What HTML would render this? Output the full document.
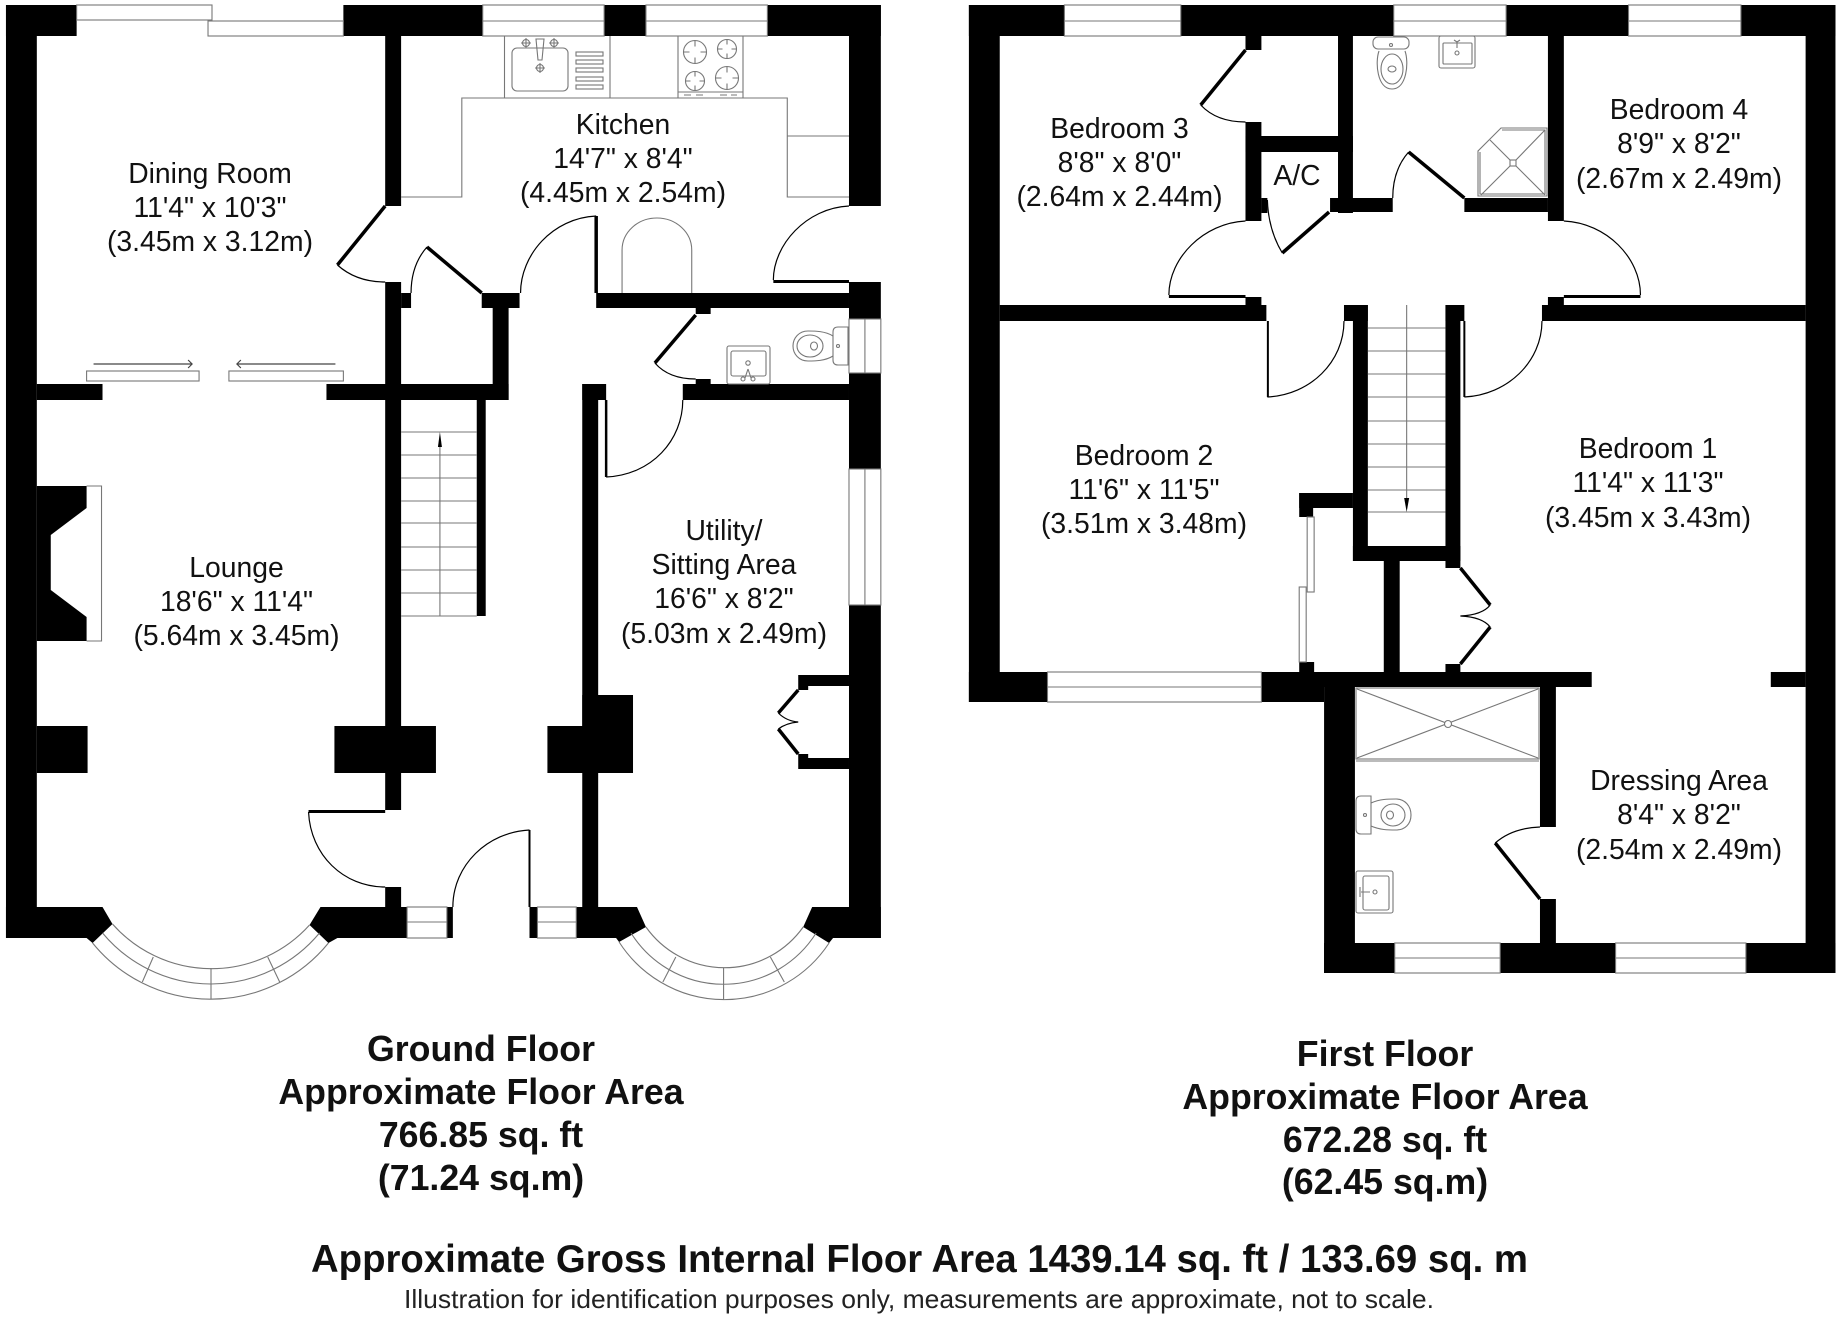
<!DOCTYPE html>
<html><head><meta charset="utf-8"><title>Floor plan</title>
<style>
html,body{margin:0;padding:0;background:#fff}
svg{display:block}
.w{fill:#000}
.g{fill:none;stroke:#777;stroke-width:1.1}
.win{fill:#fff;stroke:#777;stroke-width:1.1}
.a{fill:none;stroke:#000;stroke-width:1.2}
.l{fill:none;stroke:#000;stroke-width:3.5}
.t{font-family:"Liberation Sans",Arial,sans-serif;font-size:28.3px;fill:#111;text-anchor:middle}
.b{font-family:"Liberation Sans",Arial,sans-serif;font-size:35.7px;font-weight:bold;fill:#111;text-anchor:middle}
</style></head><body>
<svg xmlns="http://www.w3.org/2000/svg" width="1840" height="1320" viewBox="0 0 1840 1320">
<rect width="1840" height="1320" fill="#fff"/>

<g transform="scale(0.9953,1)">
<!-- GROUND FLOOR walls -->
<g class="w">
<rect x="6" y="5" width="31" height="933"/>
<rect x="6" y="5" width="71" height="31"/>
<rect x="345" y="5" width="140" height="31"/>
<rect x="607" y="5" width="42" height="31"/>
<rect x="771" y="5" width="114" height="31"/>
<rect x="853" y="5" width="32" height="201"/>
<rect x="387" y="36" width="16" height="170"/>
<rect x="387" y="282" width="16" height="528"/>
<rect x="403" y="293" width="10" height="15"/>
<rect x="484" y="293" width="38" height="15"/>
<rect x="599" y="293" width="254" height="15"/>
<rect x="853" y="282" width="32" height="37"/>
<rect x="495" y="308" width="16" height="92"/>
<rect x="37" y="384" width="66" height="16"/>
<rect x="328" y="384" width="183" height="16"/>
<rect x="699" y="308" width="15" height="6"/>
<rect x="699" y="379" width="15" height="5"/>
<rect x="686" y="384" width="167" height="16"/>
<rect x="585" y="384" width="24" height="16"/>
<rect x="585" y="384" width="16" height="523"/>
<rect x="853" y="373" width="32" height="96"/>
<rect x="853" y="605" width="32" height="333"/>
<rect x="479" y="400" width="9" height="216"/>
<polygon points="37,486 87,486 87,508 51,535 51,590 87,617 87,641 37,641"/>
<rect x="37" y="726" width="51" height="47"/>
<rect x="336" y="726" width="102" height="47"/>
<polygon points="550,726 585,726 585,695 636,695 636,773 550,773"/>
<rect x="802" y="675" width="51" height="11"/>
<rect x="802" y="686" width="10" height="4"/>
<rect x="802" y="758" width="51" height="11"/>
<rect x="802" y="754" width="10" height="4"/>
<rect x="387" y="887" width="16" height="20"/>
<polygon points="37,907 103,907 113,924 93,943 87,938 6,938 6,907"/>
<polygon points="322,907 409,907 409,938 339,938 330,943 311,925"/>
<rect x="449" y="907" width="6" height="31"/>
<rect x="532" y="907" width="8" height="31"/>
<polygon points="579,907 640,907 649,927 622,942 619,938 579,938"/>
<polygon points="816,907 885,907 885,938 837,938 833,943 807,927"/>
</g>

<!-- Ground windows -->
<rect class="win" x="77" y="5" width="136" height="15"/>
<rect class="win" x="209" y="21" width="136" height="15"/>
<rect class="win" x="485" y="5" width="122" height="31"/><path class="g" d="M485 21H607"/>
<rect class="win" x="649" y="5" width="122" height="31"/><path class="g" d="M649 21H771"/>
<rect class="win" x="853" y="319" width="32" height="54"/><path class="g" d="M869 319V373"/>
<rect class="win" x="853" y="469" width="32" height="136"/><path class="g" d="M869 469V605"/>
<rect class="win" x="409" y="907" width="40" height="31"/><path class="g" d="M409 922H449"/>
<rect class="win" x="540" y="907" width="39" height="31"/><path class="g" d="M540 922H579"/>

<!-- Kitchen worktops -->
<path class="g" d="M403 197H464V98H791V197H853M791 136H853"/>
<path class="g" d="M625 293V250A35 32 0 0 1 695 250V293"/>

<!-- Ground doors -->
<path class="l" d="M387 206L339 265"/><path class="a" d="M339 265Q358 282 387 282"/>
<path class="l" d="M484 293L429 247"/><path class="a" d="M429 247Q413 265 413 293"/>
<path class="l" d="M599 216V293"/><path class="a" d="M599 216C555 218 523 255 523 293"/>
<rect class="w" x="777" y="280" width="76" height="3"/><path class="a" d="M853 206C810 208 777 245 777 280"/>
<path class="l" d="M699 315L658 363"/><path class="a" d="M658 363Q672 379 699 379"/>
<path class="l" d="M609 400V477" style="stroke-width:2.5"/><path class="a" d="M609 477C655 475 686 440 686 400"/>
<rect class="w" x="310" y="810" width="77" height="3"/><path class="a" d="M310 812C312 855 345 887 387 887"/>
<path class="a" style="stroke-width:2" d="M532 830V907"/><path class="a" d="M532 830C490 832 455 865 455 907"/>
<path class="l" d="M802 690L782 713"/><path class="l" d="M782 729L802 754"/>
<path class="a" d="M782 713Q790 721 802 722Q790 723 782 729"/>

<!-- Sliding doors -->
<rect class="win" x="87" y="371" width="113" height="10"/><rect class="win" x="230" y="371" width="115" height="10"/>
<path d="M94 364H193M189 360L193 364L189 368M238 364H337M242 360L238 364L242 368" fill="none" stroke="#444" stroke-width="1.2"/>

<!-- Stairs ground -->
<path class="g" d="M403 432H479M403 455H479M403 478H479M403 501H479M403 523H479M403 547H479M403 570H479M403 593H479M403 616H479M442 447V616"/>
<polygon points="442,432 440,447 444,447" fill="#000"/>

<!-- Hearth -->
<path class="g" d="M87 486H102V641H87"/>

<!-- Bays -->
<path class="g" d="M113 924A133 133 0 0 0 311 925M103 933A142 142 0 0 0 321 933M93 943A153 153 0 0 0 330 943"/>
<path class="g" d="M212 968V999M154 957L143 982M269 957L281 982"/>
<path class="g" d="M649 927A97 97 0 0 0 807 927M634 933A110 110 0 0 0 820 933M622 942A126 126 0 0 0 833 943"/>
<path class="g" d="M727 968V999M679 957L666 982M774 957L788 982"/>
</g>

<g transform="translate(950,0) scale(0.9949,1) translate(-950,0)">
<!-- FIRST FLOOR walls -->
<g class="w">
<rect x="969" y="5" width="96" height="31"/>
<rect x="1182" y="5" width="214" height="31"/>
<rect x="1509" y="5" width="123" height="31"/>
<rect x="1745" y="5" width="95" height="31"/>
<rect x="969" y="5" width="31" height="697"/>
<rect x="1810" y="5" width="30" height="968"/>
<rect x="1000" y="305" width="268" height="16"/>
<rect x="1247" y="297" width="16" height="8"/>
<rect x="1247" y="36" width="16" height="14"/>
<rect x="1247" y="122" width="16" height="99"/>
<rect x="1247" y="136" width="108" height="16"/>
<rect x="1340" y="36" width="15" height="177"/>
<rect x="1263" y="198" width="6" height="15"/>
<rect x="1332" y="198" width="63" height="14"/>
<rect x="1467" y="198" width="84" height="14"/>
<rect x="1551" y="36" width="16" height="185"/>
<rect x="1551" y="297" width="16" height="8"/>
<rect x="1545" y="305" width="265" height="16"/>
<rect x="1346" y="305" width="24" height="16"/>
<rect x="1355" y="305" width="15" height="256"/>
<rect x="1448" y="305" width="19" height="16"/>
<rect x="1448" y="305" width="15" height="263"/>
<rect x="1355" y="546" width="108" height="15"/>
<rect x="1301" y="493" width="54" height="15"/>
<rect x="1301" y="493" width="14" height="24"/>
<rect x="1301" y="662" width="15" height="10"/>
<rect x="1386" y="561" width="16" height="111"/>
<rect x="1448" y="664" width="15" height="8"/>
<rect x="1263" y="672" width="332" height="15"/>
<rect x="1775" y="672" width="35" height="15"/>
<rect x="969" y="672" width="79" height="30"/>
<rect x="1263" y="672" width="63" height="30"/>
<rect x="1326" y="672" width="31" height="301"/>
<rect x="1543" y="687" width="16" height="140"/>
<rect x="1543" y="899" width="16" height="44"/>
<rect x="1326" y="943" width="71" height="30"/>
<rect x="1503" y="943" width="116" height="30"/>
<rect x="1750" y="943" width="90" height="30"/>
</g>

<!-- First windows -->
<rect class="win" x="1065" y="5" width="117" height="31"/><path class="g" d="M1065 21H1182"/>
<rect class="win" x="1396" y="5" width="113" height="31"/><path class="g" d="M1396 21H1509"/>
<rect class="win" x="1632" y="5" width="113" height="31"/><path class="g" d="M1632 21H1745"/>
<rect class="win" x="1048" y="672" width="215" height="30"/><path class="g" d="M1048 687H1263"/>
<rect class="win" x="1397" y="943" width="106" height="30"/><path class="g" d="M1397 958H1503"/>
<rect class="win" x="1619" y="943" width="131" height="30"/><path class="g" d="M1619 958H1750"/>

<!-- First doors -->
<path class="l" d="M1247 50L1202 105"/><path class="a" d="M1202 105Q1218 122 1247 122"/>
<rect class="w" x="1170" y="295" width="77" height="3"/><path class="a" d="M1247 221C1205 223 1170 258 1170 295"/>
<path class="l" d="M1331 212L1284 253"/><path class="a" d="M1284 253Q1270 230 1269 200"/>
<path class="l" d="M1411 152L1467 198"/><path class="a" d="M1411 152Q1395 170 1395 198"/>
<rect class="w" x="1567" y="295" width="77" height="3"/><path class="a" d="M1567 221C1610 223 1644 258 1644 295"/>
<path class="l" style="stroke-width:2" d="M1269.500 321V397"/><path class="a" d="M1269 397C1312 395 1346 362 1346 321"/>
<path class="l" style="stroke-width:2" d="M1467 321V397"/><path class="a" d="M1467 397C1510 395 1545 362 1545 321"/>
<rect class="win" x="1309" y="517" width="7" height="75"/><rect class="win" x="1301" y="587" width="7" height="75"/>
<path class="l" d="M1463 568L1493 605"/><path class="l" d="M1463 664L1493 627"/>
<path class="a" d="M1493 605Q1485 615 1463 616Q1485 617 1493 627"/>
<path class="a" d="M1543 827Q1515 828 1498 843"/><path class="l" d="M1498 843L1543 899"/>

<!-- Stairs first -->
<path class="g" d="M1370 328H1448M1370 351H1448M1370 374H1448M1370 397H1448M1370 421H1448M1370 444H1448M1370 467H1448M1370 490H1448M1370 512H1448M1409 305V498"/>
<polygon points="1409,512 1406.500,498 1411.500,498" fill="#000"/>
</g>

<!-- Kitchen fixtures (true coordinates) -->
<path class="g" d="M504.500 36V98M610 36V98M678 36V98M743 36V98M678 92H743"/>
<rect class="g" x="512" y="48" width="56" height="43" rx="5"/>
<path class="g" d="M536 39h8l-2 21h-4z" fill="#fff"/>
<circle class="g" cx="526" cy="43" r="3.500"/><path class="g" d="M521 43h10M526 38v10"/>
<circle class="g" cx="554" cy="43" r="3.500"/><path class="g" d="M549 43h10M554 38v10"/>
<circle class="g" cx="540" cy="68" r="3.500"/><path class="g" d="M535 68h10M540 63v10"/>
<rect class="g" x="576" y="52" width="27" height="4"/><rect class="g" x="576" y="60" width="27" height="4"/>
<rect class="g" x="576" y="68" width="27" height="4"/><rect class="g" x="576" y="77" width="27" height="4"/>
<rect class="g" x="576" y="85" width="27" height="4"/>
<circle class="g" cx="695" cy="52" r="11.500"/><circle class="g" cx="727" cy="49" r="9.500"/>
<circle class="g" cx="695" cy="81" r="9.500"/><circle class="g" cx="727" cy="78" r="11.500"/>
<path class="g" d="M695 40.500v6M695 57.500v6M683.500 52h6M700.500 52h6M727 39.500v5M727 53.500v5M717.500 49h5M731.500 49h5M695 71.500v5M695 85.500v5M685.500 81h5M699.500 81h5M727 66.500v6M727 83.500v6M715.500 78h6M732.500 78h6"/>
<path class="g" d="M684 95h7M696 95h7M720 95h7M731 95h6"/>

<!-- Ground WC fixtures -->
<path class="g" d="M833 332Q833 327 838 327H848V365H838Q833 365 833 360Z"/>
<path class="g" d="M833 336C825 331 815 331 808 331C799 331 793 338 793 346C793 354 799 361 808 361C815 361 825 361 833 356"/>
<ellipse class="g" cx="810" cy="346" rx="13" ry="11"/><ellipse class="g" cx="814" cy="346" rx="3.500" ry="4"/><circle class="g" cx="838" cy="346" r="1.500"/>
<rect class="g" x="727" y="346" width="43" height="38" rx="2"/><rect class="g" x="731" y="351" width="35" height="25" rx="2"/>
<circle class="g" cx="748" cy="363" r="2.200"/><path class="g" d="M748 369l-3 9M748 369l3 9"/><circle class="g" cx="743" cy="379" r="2"/><circle class="g" cx="753" cy="379" r="2"/>

<!-- Bathroom fixtures -->
<rect class="g" x="1373" y="37" width="36" height="12" rx="5"/><circle class="g" cx="1391" cy="45" r="1.500"/>
<path class="g" d="M1379 51C1375 62 1377 89 1392 89C1407 89 1409 62 1405 51"/>
<ellipse class="g" cx="1392" cy="69" rx="11" ry="15"/><ellipse class="g" cx="1392" cy="69" rx="4" ry="3"/>
<rect class="g" x="1439" y="36" width="36" height="32" rx="2"/><rect class="g" x="1443" y="43" width="29" height="21" rx="1"/>
<path class="g" d="M1457 42l-3 -2M1457 42l3 -2M1457 42v6"/><circle class="g" cx="1457" cy="53" r="2"/>
<polygon class="g" points="1501,128 1547,128 1547,196 1478,196 1478,151"/>
<path class="g" d="M1502 130H1545V194H1480V152M1545 130L1516 160M1490 140L1510 160M1481 195L1510 166M1545 195L1516 166"/>
<rect class="g" x="1510" y="160" width="6" height="6"/>

<!-- Ensuite fixtures -->
<rect class="g" x="1356" y="688" width="183" height="71"/><path class="g" d="M1356 761H1539M1357 689L1538 758M1538 689L1357 758"/>
<circle cx="1448" cy="724" r="3.500" fill="#fff" stroke="#777" stroke-width="1.1"/>
<path class="g" d="M1361 796Q1356 796 1356 801V829Q1356 834 1361 834H1371V796Z"/><circle class="g" cx="1365" cy="815" r="1.500"/>
<path class="g" d="M1371 803C1380 799 1388 799 1396 799C1405 799 1411 806 1411 815C1411 824 1405 830 1396 830C1388 830 1380 830 1371 826"/>
<ellipse class="g" cx="1393" cy="815" rx="12" ry="11"/><ellipse class="g" cx="1390" cy="815" rx="3.500" ry="4"/>
<rect class="g" x="1356" y="871" width="37" height="42" rx="2"/><rect class="g" x="1363" y="876" width="26" height="34" rx="2"/>
<path class="g" d="M1361 892h9M1360 887v10"/><circle class="g" cx="1375" cy="892" r="2"/>

<!-- Room labels -->
<g class="t">
<text x="210" y="183">Dining Room</text><text x="210" y="217">11'4" x 10'3"</text><text x="210" y="251">(3.45m x 3.12m)</text>
<text x="623" y="134">Kitchen</text><text x="623" y="168">14'7" x 8'4"</text><text x="623" y="202">(4.45m x 2.54m)</text>
<text x="236.500" y="577">Lounge</text><text x="236.500" y="611">18'6" x 11'4"</text><text x="236.500" y="645">(5.64m x 3.45m)</text>
<text x="724" y="540">Utility/</text><text x="724" y="574">Sitting Area</text><text x="724" y="608">16'6" x 8'2"</text><text x="724" y="643">(5.03m x 2.49m)</text>
<text x="1119.500" y="138">Bedroom 3</text><text x="1119.500" y="172">8'8" x 8'0"</text><text x="1119.500" y="206">(2.64m x 2.44m)</text>
<text x="1679" y="119">Bedroom 4</text><text x="1679" y="153">8'9" x 8'2"</text><text x="1679" y="188">(2.67m x 2.49m)</text>
<text x="1297" y="185">A/C</text>
<text x="1144" y="465">Bedroom 2</text><text x="1144" y="499">11'6" x 11'5"</text><text x="1144" y="533">(3.51m x 3.48m)</text>
<text x="1648" y="458">Bedroom 1</text><text x="1648" y="492">11'4" x 11'3"</text><text x="1648" y="527">(3.45m x 3.43m)</text>
<text x="1679" y="790">Dressing Area</text><text x="1679" y="824">8'4" x 8'2"</text><text x="1679" y="859">(2.54m x 2.49m)</text>
</g>

<!-- Footer -->
<g class="b">
<text x="481" y="1061">Ground Floor</text><text x="481" y="1104">Approximate Floor Area</text><text x="481" y="1147">766.85 sq. ft</text><text x="481" y="1190">(71.24 sq.m)</text>
<text x="1385" y="1066">First Floor</text><text x="1385" y="1109">Approximate Floor Area</text><text x="1385" y="1152">672.28 sq. ft</text><text x="1385" y="1194">(62.45 sq.m)</text>
</g>
<text x="311" y="1272" textLength="1217" lengthAdjust="spacingAndGlyphs" font-family="'Liberation Sans',Arial,sans-serif" font-weight="bold" font-size="39" fill="#111">Approximate Gross Internal Floor Area 1439.14 sq. ft / 133.69 sq. m</text>
<text x="404" y="1308" textLength="1030" lengthAdjust="spacingAndGlyphs" font-family="'Liberation Sans',Arial,sans-serif" font-size="26" fill="#222">Illustration for identification purposes only, measurements are approximate, not to scale.</text>
</svg>
</body></html>
